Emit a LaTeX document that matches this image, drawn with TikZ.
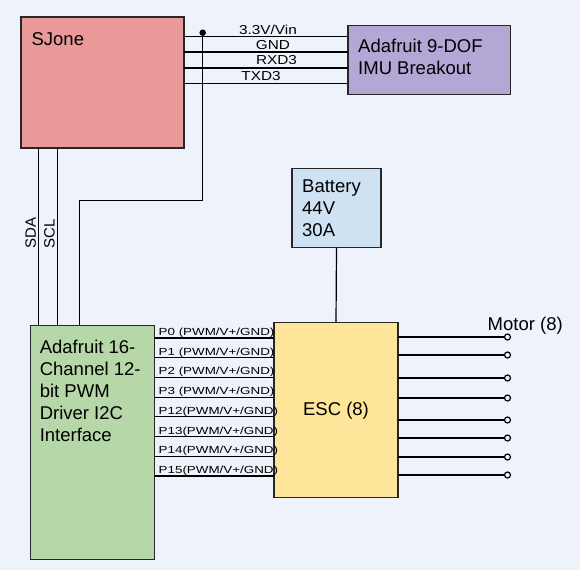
\documentclass[tikz,border=0pt]{standalone}
\usepackage{fontspec}
\setmainfont{Liberation Sans}
\newfontfamily\wirefont[FakeStretch=1.18]{Liberation Sans}
\newfontfamily\pinfont[FakeStretch=1.3]{Liberation Sans}
\usetikzlibrary{positioning,calc}
\definecolor{bgcol}{HTML}{EEF2FA}
\definecolor{sjfill}{HTML}{EA9999}
\definecolor{imufill}{HTML}{B4A7D6}
\definecolor{batfill}{HTML}{CFE2F3}
\definecolor{pwmfill}{HTML}{B6D7A8}
\definecolor{escfill}{HTML}{FFE599}
\tikzset{
  box/.style={draw=black!85,line width=1.2pt,inner sep=0pt,outer sep=0pt,anchor=north west},
  boxtext/.style={anchor=north west,inner sep=0pt,align=left,font=\fontsize{18.5}{22}\selectfont},
  wire/.style={black,line width=1.2pt},
  wirelbl/.style={anchor=base,inner sep=0pt,font=\wirefont\fontsize{13}{13}\selectfont},
  pinlbl/.style={anchor=base west,inner sep=0pt,font=\pinfont\fontsize{10.3}{10.3}\selectfont},
  term/.style={circle,draw,line width=1.2pt,fill=bgcol,inner sep=0pt,minimum size=6pt},
  dot/.style={circle,fill=black,inner sep=0pt,minimum size=6.5pt}
}
\begin{document}
\begin{tikzpicture}[x=1pt,y=-1pt]
       \path[fill=bgcol,use as bounding box] (0,0) rectangle (580,570);
       \node[box,fill=sjfill,minimum width=163,minimum height=131] (sjone) at (21,17) {};
       \node[box,fill=imufill,minimum width=162.5,minimum height=69] (imu) at (348,25.4) {};
       \node[box,fill=batfill,minimum width=89,minimum height=79.2] (bat) at (292,168.3) {};
       \node[box,fill=pwmfill,minimum width=124.3,minimum height=233.8] (pwm) at (30.3,325.3) {};
       \node[box,fill=escfill,minimum width=124,minimum height=175] (esc) at (274,322.4) {};
       \node[boxtext] (sjtext) at (31.4,32.7) {SJone};
       \node[boxtext] (imutext) at (358,39.3) {Adafruit 9-DOF\\IMU Breakout};
       \node[boxtext] (battext) at (302,180) {Battery\\44V\\30A};
       \node[boxtext] (pwmtext) at (39.6,340) {Adafruit 16-\\Channel 12-\\bit PWM\\Driver I2C\\Interface};
       \node[font=\fontsize{18.5}{22}\selectfont] (esctext) at ($(esc.center)+(0,1)$) {ESC (8)};
       \foreach \y in {36.4,52,68,83.6}
         \draw[wire] (sjone.east |- 0,\y) -- (imu.west |- 0,\y);
       \node[wirelbl] (lvin) at (268,34.5) {3.3V/Vin};
       \node[wirelbl] (lgnd) at (273,49.5) {GND};
       \node[wirelbl] (lrxd) at (276.5,64.5) {RXD3};
       \node[wirelbl] (ltxd) at (261,80) {TXD3};
       \node[dot] (tap) at (202.7,32.7) {};
       \coordinate (turn) at (79.3,200.5);
       \draw[wire] (tap.center) |- (turn) -- (turn |- pwm.north);
       \draw[wire] (sjone.south -| 38.3,0) -- (pwm.north -| 38.3,0);
       \draw[wire] (sjone.south -| 57.3,0) -- (pwm.north -| 57.3,0);
       \node[rotate=90,anchor=base west,inner sep=0pt,font=\fontsize{15}{15}\selectfont] (sda) at (35.8,249) {SDA};
       \node[rotate=90,anchor=base west,inner sep=0pt,font=\fontsize{15}{15}\selectfont] (scl) at (54.5,249) {SCL};
       \draw[wire] (bat.south) -- (esc.north);
       \foreach \p [count=\i from 0] in {0,1,2,3,12,13,14,15}{
         \pgfmathsetmacro\yy{338+19.7*\i}
         \draw[wire] (pwm.east |- 0,\yy) -- (esc.west |- 0,\yy);
         \node[pinlbl] (pin\p) at (158.5,\yy-2.5) {P\p\ifnum\p<10\ \fi(PWM/V+/GND)};
       }
       \foreach \y [count=\i] in {337,355,378,398,420,438,457,475}{
         \node[term] (m\i) at (507.5,\y) {};
         \draw[wire] (esc.east |- m\i) -- (m\i);
       }
       \node[anchor=base west,inner sep=0pt,font=\fontsize{18.5}{22}\selectfont] (motor) at (487.5,330) {Motor (8)};
\end{tikzpicture}
\end{document}
